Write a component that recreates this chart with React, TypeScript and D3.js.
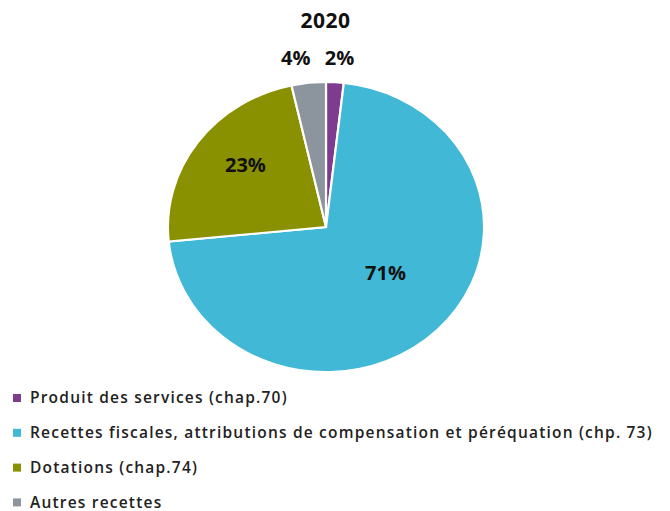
import React, { useRef, useEffect } from 'react';
import * as d3 from 'd3';

// values (shares of revenue, %)
const categories = [
  'Produit des services (chap.70)',
  'Recettes fiscales, attributions de compensation et péréquation (chp. 73)',
  'Dotations (chap.74)',
  'Autres recettes',
];
const values = [1.8, 71.6, 23.1, 3.5];
const labels = ['2%', '71%', '23%', '4%'];
const colors = ['#7d3c8f', '#41b8d5', '#8a9100', '#8c959d'];
const title = '2020';

const W = 670;
const H = 511;

const App = () => {
  const ref = useRef<SVGSVGElement>(null);

  useEffect(() => {
    const svg = d3.select(ref.current).attr('width', W).attr('height', H);
    svg.selectAll('*').remove();

    const font = '"Open Sans", Lato, sans-serif';
    const cx = 326;
    const cy = 227;
    const r = 145;
    const sx = 1.09; // the pie is a little wider than tall

    svg.append('text')
      .attr('x', 325.5)
      .attr('y', 28)
      .attr('text-anchor', 'middle')
      .style('font-family', font)
      .style('font-weight', 700)
      .style('font-size', '21px')
      .style('letter-spacing', '0.5px')
      .attr('fill', '#111')
      .text(title);

    const pie = d3.pie<number>().sort(null).value(d => d);
    const arcs = pie(values);
    const arc = d3.arc<d3.PieArcDatum<number>>().innerRadius(0).outerRadius(r);

    const g = svg.append('g').attr('transform', `translate(${cx},${cy}) scale(${sx},1)`);
    g.selectAll('path')
      .data(arcs)
      .enter().append('path')
      .attr('d', arc)
      .attr('fill', (d, i) => colors[i])
      .attr('stroke', '#fff')
      .attr('stroke-width', 2);

    // inside labels for big slices, outside for small ones
    const inner = d3.arc<d3.PieArcDatum<number>>();
    const labelR = [1.17, 0.5, 0.66, 1.17];
    const lg = svg.append('g').attr('transform', `translate(${cx},${cy})`);
    arcs.forEach((d, i) => {
      const rr = r * labelR[i];
      const [x, y] = inner.innerRadius(rr).outerRadius(rr).centroid(d);
      const outside = labelR[i] > 1;
      lg.append('text')
        .attr('x', x * sx + (outside ? (x < 0 ? -10 : 3) : 4))
        .attr('y', y + (outside ? 0 : -6))
        .attr('dy', '0.35em')
        .attr('text-anchor', 'middle')
        .style('font-family', font)
        .style('font-weight', 700)
        .style('font-size', '20px')
        .attr('fill', '#111')
        .text(labels[i]);
    });

    const legend = svg.append('g').attr('transform', 'translate(13,398)');
    const row = legend.selectAll('g')
      .data(categories)
      .enter().append('g')
      .attr('transform', (d, i) => `translate(0,${i * 34.8})`);
    row.append('rect')
      .attr('x', 0)
      .attr('y', -4)
      .attr('width', 8)
      .attr('height', 8)
      .attr('fill', (d, i) => colors[i]);
    row.append('text')
      .attr('x', 17)
      .attr('dy', '0.35em')
      .style('font-family', font)
      .style('font-weight', 600)
      .style('font-size', '15.5px')
      .style('letter-spacing', '1.2px')
      .attr('fill', '#222')
      .text(d => d);
  }, []);

  return <svg ref={ref} style={{ position: 'absolute', left: 0, top: 0 }}></svg>;
};

export default App;
